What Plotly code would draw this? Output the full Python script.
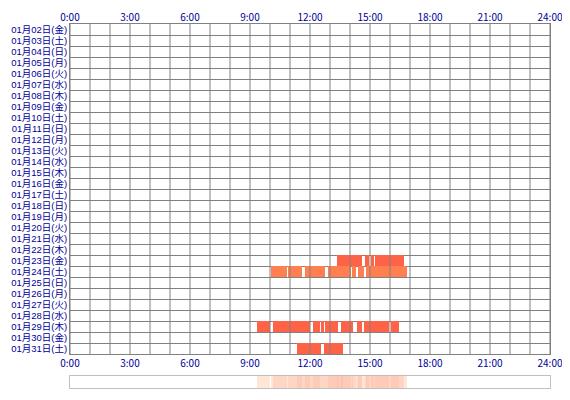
import numpy as np
import plotly.graph_objects as go

# ---- data ----
day_labels = [
    "01月02日(金)", "01月03日(土)", "01月04日(日)", "01月05日(月)", "01月06日(火)",
    "01月07日(水)", "01月08日(木)", "01月09日(金)", "01月10日(土)", "01月11日(日)",
    "01月12日(月)", "01月13日(火)", "01月14日(水)", "01月15日(木)", "01月16日(金)",
    "01月17日(土)", "01月18日(日)", "01月19日(月)", "01月20日(火)", "01月21日(水)",
    "01月22日(木)", "01月23日(金)", "01月24日(土)", "01月25日(日)", "01月26日(月)",
    "01月27日(火)", "01月28日(水)", "01月29日(木)", "01月30日(金)", "01月31日(土)",
]
hour_ticks = [0, 3, 6, 9, 12, 15, 18, 21, 24]
hour_labels = ["0:00", "3:00", "6:00", "9:00", "12:00", "15:00", "18:00", "21:00", "24:00"]

day23_start = [13.35, 14.75, 15.03, 15.25]
day23_end = [14.58, 14.95, 15.20, 16.70]
day24_start = [10.03, 10.92, 11.75, 12.90, 14.12, 14.38, 14.80]
day24_end = [10.87, 11.60, 12.75, 14.05, 14.28, 14.70, 16.83]
day29_start = [9.35, 10.15, 12.15, 12.57, 12.75, 13.55, 14.35, 14.70, 16.05]
day29_end = [9.98, 12.00, 12.50, 12.68, 13.40, 14.17, 14.62, 15.95, 16.45]
day31_start = [11.35, 12.70]
day31_end = [12.55, 13.63]

series = [
    ("01月23日(金)", day23_start, day23_end, "#FF6347"),
    ("01月24日(土)", day24_start, day24_end, "#FF7F50"),
    ("01月29日(木)", day29_start, day29_end, "#FF6347"),
    ("01月31日(土)", day31_start, day31_end, "#FF6347"),
]

XFONT = dict(family="Noto Sans CJK JP", size=10, color="#000099")
YFONT = dict(family="Liberation Sans, Noto Sans CJK JP", size=9.5, color="#000099")
GRID = "#808080"

fig = go.Figure()
for label, starts, ends, color in series:
    fig.add_trace(go.Bar(
        y=[label] * len(starts),
        base=starts,
        x=[e - s for s, e in zip(starts, ends)],
        orientation="h",
        width=0.92,
        marker=dict(color=color, line=dict(width=0)),
        xaxis="x", yaxis="y",
        hoverinfo="skip",
    ))

# activity density strip (count of days active per minute)
minutes = np.arange(0, 24 * 60) / 60.0 + 1 / 120.0
counts = np.zeros_like(minutes)
for _, starts, ends, _c in series:
    for s, e in zip(starts, ends):
        counts += (minutes >= s) & (minutes < e)
fig.add_trace(go.Heatmap(
    x=minutes, y=[0], z=[counts],
    zmin=0, zmax=4,
    colorscale=[[0, "#FFFFFF"], [0.0001, "#FFE6D6"], [0.25, "#FFE6D6"],
                [0.5, "#FFD6C6"], [0.75, "#FFCBB9"], [1, "#FFC0AC"]],
    showscale=False, xaxis="x2", yaxis="y2", hoverinfo="skip",
))

# invisible trace for top axis labels
fig.add_trace(go.Scatter(
    x=[0, 24], y=[day_labels[0], day_labels[0]], mode="markers",
    marker=dict(opacity=0), xaxis="x3", yaxis="y", hoverinfo="skip", showlegend=False,
))

shapes = []
for h in range(0, 25):
    shapes.append(dict(type="line", xref="x", yref="y domain", x0=h, x1=h, y0=0, y1=1,
                       line=dict(color=GRID, width=1), layer="above"))

fig.update_layout(
    width=562, height=392,
    margin=dict(l=62, r=20, t=16, b=12),
    paper_bgcolor="white", plot_bgcolor="white",
    showlegend=False, barmode="overlay", bargap=0,
    shapes=shapes,
    xaxis=dict(domain=[0, 1], anchor="y", range=[0, 24], showgrid=False, zeroline=False,
               tickmode="array", tickvals=hour_ticks, ticktext=hour_labels, automargin=False,
               tickfont=XFONT, ticks="", showline=True, linecolor=GRID, mirror=True),
    yaxis=dict(domain=[0.0934, 1], anchor="x", type="category",
               categoryorder="array", categoryarray=day_labels,
               tickmode="array", tickvals=day_labels, ticktext=day_labels,
               range=[len(day_labels) - 0.5, -0.5], automargin=False,
               tickson="boundaries", showgrid=True, gridcolor=GRID, gridwidth=1,
               tickfont=YFONT, ticks="", showline=True, linecolor=GRID, mirror=True),
    xaxis2=dict(domain=[0, 1], anchor="y2", matches="x", range=[0, 24], automargin=False,
                showticklabels=False, showgrid=False, zeroline=False, ticks="",
                showline=True, linecolor="#C0C0C0", mirror=True),
    yaxis2=dict(domain=[0, 0.033], anchor="x2", range=[-0.5, 0.5], automargin=False,
                showticklabels=False, showgrid=False, zeroline=False, ticks="",
                showline=True, linecolor="#C0C0C0", mirror=True),
    xaxis3=dict(overlaying="x", side="top", anchor="y", matches="x", range=[0, 24],
                showgrid=False, zeroline=False, tickmode="array", automargin=False,
                tickvals=hour_ticks, ticktext=hour_labels, tickfont=XFONT, ticks=""),
)

fig.write_html("out.html")
